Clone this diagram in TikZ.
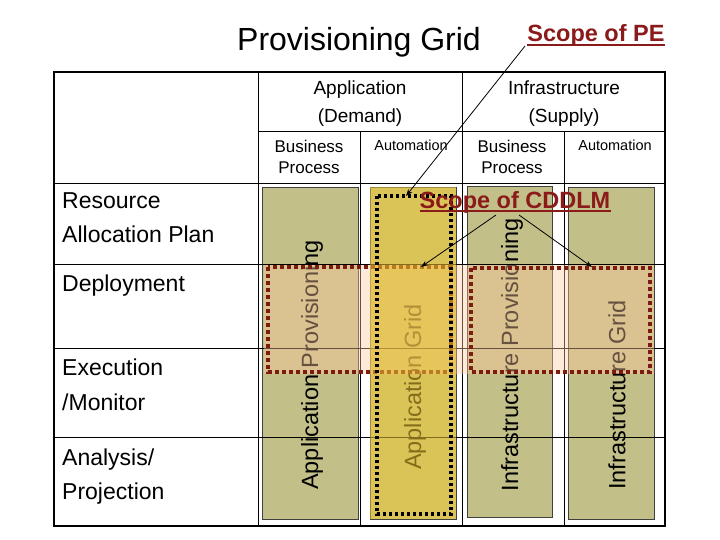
\documentclass[tikz,border=0pt]{standalone}
\usepackage{fontspec}
\setmainfont{Liberation Sans}
\usetikzlibrary{arrows.meta}
\definecolor{boxgreen}{HTML}{C2C088}
\definecolor{scopered}{HTML}{8B1A1A}
\definecolor{dashred}{HTML}{7B1C12}
\definecolor{peach}{HTML}{FFC8A0}
\definecolor{goldlayer}{HTML}{F0C830}
\begin{document}
\begin{tikzpicture}[x=1pt,y=-1pt,
  colbox/.style={draw=black!75, line width=0.8pt, fill=boxgreen, inner sep=0pt},
  gridln/.style={line width=0.8pt, black},
  vlabel/.style={rotate=90, inner sep=0pt, font=\fontsize{23.5}{28}\selectfont},
  rowlabel/.style={anchor=base west, inner sep=0pt, font=\fontsize{23}{28}\selectfont},
  headlabel/.style={anchor=base, inner sep=0pt, font=\fontsize{19}{23}\selectfont},
  bplabel/.style={anchor=base, inner sep=0pt, font=\fontsize{17}{21}\selectfont},
  autolabel/.style={anchor=base, inner sep=0pt, font=\fontsize{14.5}{18}\selectfont},
  scopelabel/.style={inner sep=0pt, anchor=base, text=scopered, font=\fontsize{23.5}{28}\selectfont\bfseries},
  uline/.style={draw=scopered, line width=2pt},
  ptr/.style={line width=0.8pt, -{Stealth[length=7pt,width=5pt]}},
  reddash/.style={draw=dashred, line width=3.2pt, dash pattern=on 4pt off 3pt},
]
\useasboundingbox (0,0) rectangle (720,540);
\fill[white] (0,0) rectangle (720,540);

% title
\node[inner sep=0pt, anchor=base, font=\fontsize{32}{36}\selectfont] (title) at (359,51) {Provisioning Grid};

% column boxes
\node[colbox, minimum width=96pt, minimum height=332pt] (c1) at (310,353) {};
\node[colbox, minimum width=86pt, minimum height=332pt] (c2) at (413,353) {};
\node[colbox, minimum width=85pt, minimum height=331pt] (c3) at (509.5,351.5) {};
\node[colbox, minimum width=86pt, minimum height=332pt] (c4) at (611,353) {};

% table grid
\draw[line width=2.2pt] (54,72) rectangle (665,526);
\draw[gridln] (258,72) -- (258,526);
\draw[gridln] (462,72) -- (462,526);
\draw[gridln] (360,131) -- (360,526);
\draw[gridln] (564,131) -- (564,526);
\draw[gridln] (258,131) -- (665,131);
\draw[gridln] (54,183) -- (665,183);
\draw[gridln] (54,264) -- (665,264);
\draw[gridln] (54,348) -- (665,348);
\draw[gridln] (54,437) -- (665,437);

% headers
\node[headlabel] (appA) at (360,95) {Application};
\node[headlabel] (appB) at (360,123) {(Demand)};
\node[headlabel] (infA) at (564,95) {Infrastructure};
\node[headlabel] (infB) at (564,123) {(Supply)};
\node[bplabel] (bp1a) at (309,153) {Business};
\node[bplabel] (bp1b) at (309,174) {Process};
\node[autolabel] (au1) at (411,151) {Automation};
\node[bplabel] (bp2a) at (512,153) {Business};
\node[bplabel] (bp2b) at (512,174) {Process};
\node[autolabel] (au2) at (615,151) {Automation};

% row labels
\node[rowlabel] (r1a) at (62,208) {Resource};
\node[rowlabel] (r1b) at (62,242) {Allocation Plan};
\node[rowlabel] (r2) at (62,291) {Deployment};
\node[rowlabel] (r3a) at (62,375) {Execution};
\node[rowlabel] (r3b) at (62,410) {/Monitor};
\node[rowlabel] (r4a) at (62,465) {Analysis/};
\node[rowlabel] (r4b) at (62,499) {Projection};

% vertical labels
\node[vlabel] (v1) at (312,365) {Application Provisioning};
\node[vlabel] (v2) at (415,387) {Application Grid};
\node[vlabel] (v3) at (512,355) {Infrastructure Provisioning};
\node[vlabel] (v4) at (617,395) {Infrastructure Grid};

% deployment overlay (scope of CDDLM)
\fill[peach, opacity=0.4] (264,265) rectangle (654,374);
\draw[reddash] (268,267) rectangle (451,372);
\draw[reddash] (471,268) rectangle (650,372);

% application grid layer (scope of PE)
\fill[goldlayer, opacity=0.55] (370,187) rectangle (456,519);
\draw[black, line width=3.2pt, dash pattern=on 3pt off 3pt] (377,196) rectangle (451,514);
\coordinate (peTip) at (406,196);

% scope labels
\node[scopelabel] (pe) at (596,42) {Scope of PE};
\draw[uline] ([yshift=-3pt]pe.base west) -- ([yshift=-3pt]pe.base east);
\node[scopelabel] (cddlm) at (515,208) {Scope of CDDLM};
\draw[uline] ([yshift=-3pt]cddlm.base west) -- ([yshift=-3pt]cddlm.base east);
\coordinate (peStart) at (525,46);
\coordinate (cdA) at (496,215);
\coordinate (cdB) at (519,215);
\coordinate (cdTipA) at (421,267);
\coordinate (cdTipB) at (592,267);

\draw[ptr] (peStart) -- (peTip);
\draw[ptr] (cdA) -- (cdTipA);
\draw[ptr] (cdB) -- (cdTipB);
\end{tikzpicture}
\end{document}
